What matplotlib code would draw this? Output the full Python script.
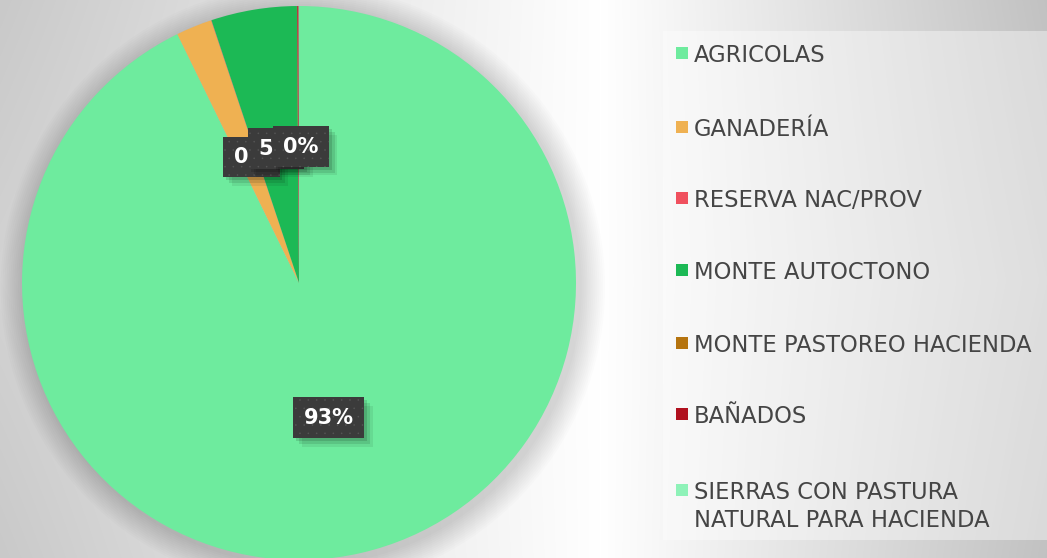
import numpy as np
import matplotlib
matplotlib.use("Agg")
import matplotlib.pyplot as plt
from matplotlib.patches import Rectangle, Circle
import matplotlib.transforms as mtransforms
import matplotlib.patheffects as pe

# data
categories = ["AGRICOLAS", "GANADERÍA", "RESERVA NAC/PROV", "MONTE AUTOCTONO",
              "MONTE PASTOREO HACIENDA", "BAÑADOS",
              "SIERRAS CON PASTURA\nNATURAL PARA HACIENDA"]
values = [92.8, 2.1, 0.02, 5.0, 0.02, 0.08, 0.02]
label_texts = ["93%", "0%", "", "5%", "", "", "0%"]
colors = ["#6EEB9E", "#EFB152", "#F0505E", "#1CB955", "#B5740F", "#B0101E", "#8EF2B8"]

W, H = 1047, 558
fig = plt.figure(figsize=(W / 100, H / 100), dpi=100)

# slide background: soft radial gradient, white in the middle
bg = fig.add_axes([0, 0, 1, 1], zorder=-10)
xx, yy = np.meshgrid(np.arange(W), np.arange(H))
dx = xx - 600.0
drop = np.where(dx < 0, 44 * (-dx / 600.0), 54 * (dx / 447.0)) + 10 * np.abs(yy - 280) / 280.0 * (np.abs(dx) / 600.0)
img = np.clip(255 - drop, 190, 255) / 255.0
bg.imshow(np.dstack([img, img, img]), extent=[0, W, H, 0], aspect="auto")
# lighter legend panel
bg.add_patch(Rectangle((663, 31), W - 663, 509, facecolor="white", alpha=0.4, edgecolor="none"))
bg.set_xlim(0, W)
bg.set_ylim(H, 0)
bg.axis("off")

# pie
cx, cy, r = 299, 283, 277
ax = fig.add_axes([(cx - r) / W, (H - cy - r) / H, 2 * r / W, 2 * r / H])
for k in range(1, 14):
    ax.add_patch(Circle((0.014, -0.014), 1 + 0.007 * k, facecolor="black",
                        alpha=0.011, edgecolor="none", zorder=0, clip_on=False))
wedges, _ = ax.pie(values, colors=colors, startangle=90, counterclock=False,
                   radius=1, wedgeprops=dict(linewidth=0, zorder=2))
ax.set_xlim(-1, 1)
ax.set_ylim(-1, 1)
ax.set_aspect("equal")
ax.axis("off")

plt.rcParams["hatch.linewidth"] = 0.0
shadow = [pe.SimplePatchShadow(offset=(2, -2), shadow_rgbFace="black", alpha=0.12, hatch=None),
          pe.SimplePatchShadow(offset=(4, -4), shadow_rgbFace="black", alpha=0.1, hatch=None),
          pe.SimplePatchShadow(offset=(6, -6), shadow_rgbFace="black", alpha=0.07, hatch=None),
          pe.Normal()]
for i, w in enumerate(wedges):
    if not label_texts[i]:
        continue
    ang = np.deg2rad((w.theta1 + w.theta2) / 2)
    x, y = 0.5 * np.cos(ang), 0.5 * np.sin(ang) - 0.008
    nudge = {1: 5, 6: 2}.get(i, 0)
    if i == 0:
        x, y = 0.108, -0.487
    pos = mtransforms.offset_copy(ax.transData, fig=fig, x=nudge, y=0, units="dots")
    t = ax.text(x, y, label_texts[i], transform=pos, ha="center", va="center", fontsize=15,
                fontweight="bold", color="white", zorder=4 + i * 2,
                bbox=dict(boxstyle="square,pad=0.5", facecolor="#3B3B3B",
                          edgecolor="#555555", linewidth=0, hatch=".."))
    t.get_bbox_patch().set_path_effects(shadow)

# legend
leg_y = [53, 127, 198, 270, 343, 414, 490]
for i, name in enumerate(categories):
    fig.patches.append(Rectangle((676 / W, 1 - (leg_y[i] + 6) / H), 12 / W, 12 / H,
                                 transform=fig.transFigure, facecolor=colors[i],
                                 edgecolor="none"))
    fig.text(694 / W, 1 - (leg_y[i] - 9) / H, name, ha="left", va="top",
             fontsize=16.3, color="#454545", linespacing=1.3)

fig.savefig("out.png", dpi=100)
